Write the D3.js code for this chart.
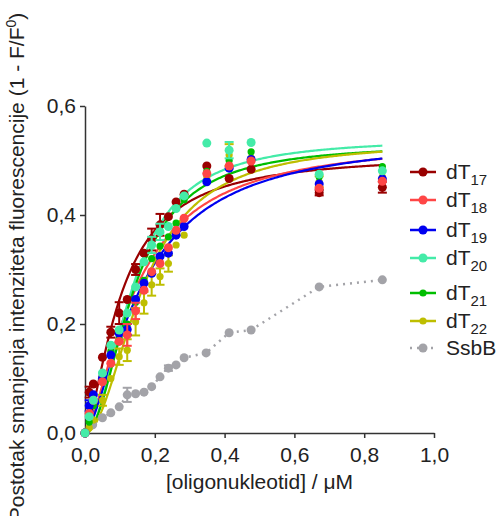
<!DOCTYPE html>
<html><head><meta charset="utf-8">
<script src="https://cdn.jsdelivr.net/npm/d3@7"></script>
<style>
html,body{margin:0;padding:0;background:#fff;}
svg text{font-family:Arial,"Liberation Sans",Helvetica,sans-serif;fill:#222;}
</style></head>
<body>
<svg id="chart" width="499" height="516"></svg>
<script>
// ---------------- data ----------------
const seriesNames = ["dT17","dT18","dT19","dT20","dT21","dT22","SsbB"];
const conc = [0,0.012,0.024,0.05,0.074,0.098,0.121,0.145,0.169,0.191,0.215,0.239,0.261,0.284,0.349,0.413,0.476,0.671,0.852];
const dT17 = [0,0.075,0.09,0.139,0.185,0.22,0.245,0.30,0.33,0.355,0.382,0.397,0.424,0.438,0.490,0.467,0.484,0.441,0.451];
const dT18 = [0,0.036,0.06,0.094,0.128,0.168,0.18,0.224,0.262,0.296,0.311,0.34,0.372,0.394,0.476,0.490,0.499,0.449,0.462];
const dT19 = [0,0.05,0.07,0.10,0.143,0.183,0.19,0.245,0.275,0.293,0.324,0.33,0.363,0.379,0.461,0.486,0.502,0.457,0.466];
const dT20 = [0,0.03,0.06,0.11,0.161,0.189,0.22,0.268,0.314,0.345,0.369,0.379,0.412,0.435,0.532,0.519,0.533,0.475,0.481];
const dT21 = [0,0.02,0.05,0.10,0.15,0.175,0.20,0.24,0.28,0.32,0.343,0.36,0.385,0.428,0.48,0.50,0.516,0.47,0.489];
const dT22 = [0,0.01,0.024,0.06,0.10,0.14,0.152,0.204,0.239,0.272,0.287,0.311,0.345,0.363,0.47,0.51,0.505,0.461,0.47];
const err17 = [0,0.01,0,0,0.01,0.02,0,0.01,0,0.02,0.02,0,0,0,0,0,0,0.005,0.01];
const err18 = [0,0,0,0,0,0,0.02,0.015,0,0,0,0,0,0,0,0,0,0,0];
const err19 = [0,0.01,0,0,0,0,0.01,0,0,0,0,0,0,0,0,0,0,0,0];
const err20 = [0,0,0,0,0,0,0,0,0,0.015,0.015,0,0,0,0,0.015,0,0,0];
const err21 = [0,0,0,0,0,0,0,0,0,0,0,0,0,0,0,0,0,0,0];
const err22 = [0,0,0,0.01,0,0.015,0.02,0.025,0.02,0.02,0.015,0.015,0,0,0,0.02,0,0.01,0];
const ssbX = [0,0.022,0.05,0.074,0.098,0.121,0.145,0.169,0.191,0.215,0.239,0.261,0.284,0.347,0.413,0.476,0.671,0.852];
const ssbB = [0,0.015,0.028,0.037,0.048,0.070,0.072,0.075,0.085,0.103,0.119,0.125,0.138,0.147,0.184,0.189,0.268,0.281];
const ssbErr = [0,0,0,0,0,0.013,0,0,0,0,0.005,0,0,0,0,0,0,0];
// Hill fit parameters (Bmax, K, h) for dT17..dT22
const fitBmax = [0.513,0.540,0.547,0.541,0.531,0.536];
const fitK    = [0.105,0.149,0.166,0.138,0.1415,0.167];
const fitHill = [1.5,1.5,1.5,2.0,2.0,2.0];
const fitEnd = 0.852;
const xTicks = [0,0.2,0.4,0.6,0.8,1.0];
const yTicks = [0,0.2,0.4,0.6];

// ---------------- styles ----------------
const colors = ["#990000","#FF4646","#0000F0","#44EBA8","#00BE00","#BEBE00","#A3A3A8"];
const radii = [4.5,4.5,4.5,4.5,3.6,3.6,4.5];

const svg = d3.select("#chart");
const x = d3.scaleLinear().domain([0,1]).range([85,434]);
const y = d3.scaleLinear().domain([0,0.6]).range([433,106]);
const fmt = d => d.toFixed(1).replace(".", ",");

// axes
const gx = svg.append("g").attr("transform","translate(0,433)")
  .call(d3.axisBottom(x).tickValues(xTicks).tickFormat(fmt).tickSize(5).tickSizeOuter(0).tickPadding(9));
const gy = svg.append("g").attr("transform","translate(85,0)")
  .call(d3.axisLeft(y).tickValues(yTicks).tickFormat(fmt).tickSize(5).tickSizeOuter(0).tickPadding(4));
[gx,gy].forEach(g=>{
  g.selectAll("path,line").attr("stroke","#333").attr("stroke-width",1.5);
  g.selectAll("text").attr("font-size",21).attr("fill","#222").attr("font-family","Arial, 'Liberation Sans', sans-serif");
});

// titles
svg.append("text").attr("x",259.5).attr("y",489).attr("text-anchor","middle")
  .attr("font-size",21).text("[oligonukleotid] / μM");
const yt = svg.append("text").attr("transform","translate(24,267) rotate(-90)")
  .attr("text-anchor","middle").attr("font-size",21);
yt.append("tspan").text("Postotak smanjenja intenziteta fluorescencije (1 - F/F");
yt.append("tspan").attr("font-size",14).attr("dy",-8).text("0");
yt.append("tspan").attr("dy",8).text(")");

// fit curves
const samples = d3.range(0,201).map(i => fitEnd*i/200);
const line = d3.line().x(d=>x(d[0])).y(d=>y(d[1]));
fitBmax.forEach((B,i)=>{
  const h = fitHill[i], K = fitK[i];
  const pts = samples.map(c => [c, B*Math.pow(c,h)/(Math.pow(K,h)+Math.pow(c,h))]);
  svg.append("path").attr("d",line(pts)).attr("fill","none")
    .attr("stroke",colors[i]).attr("stroke-width",2.2);
});

// SsbB dotted line
const ssbPts = ssbX.map((c,i)=>[c,ssbB[i]]);
svg.append("path").attr("d",line(ssbPts)).attr("fill","none")
  .attr("stroke",colors[6]).attr("stroke-width",2.5).attr("stroke-dasharray","2,5").attr("stroke-linecap","butt");

function drawPoints(xs, ys, es, color, r){
  const g = svg.append("g");
  xs.forEach((c,i)=>{
    const e = es[i];
    if(e>0){
      g.append("line").attr("x1",x(c)).attr("x2",x(c)).attr("y1",y(ys[i]-e)).attr("y2",y(ys[i]+e))
        .attr("stroke",color).attr("stroke-width",2);
      [ys[i]-e, ys[i]+e].forEach(v=>g.append("line").attr("x1",x(c)-4.5).attr("x2",x(c)+4.5)
        .attr("y1",y(v)).attr("y2",y(v)).attr("stroke",color).attr("stroke-width",2));
    }
  });
  g.selectAll("circle").data(xs).join("circle")
    .attr("cx",c=>x(c)).attr("cy",(c,i)=>y(ys[i])).attr("r",r).attr("fill",color);
}
drawPoints(ssbX, ssbB, ssbErr, colors[6], radii[6]);
const allSeries = [dT17,dT18,dT19,dT20,dT21,dT22];
const allErr = [err17,err18,err19,err20,err21,err22];
[0,5,4,2,1,3].forEach(i => drawPoints(conc, allSeries[i], allErr[i], colors[i], radii[i]));

// legend
const legY = [172,200,230,258,293,321,348];
seriesNames.forEach((name,i)=>{
  const ly = legY[i];
  const g = svg.append("g");
  g.append("line").attr("x1",410).attr("x2",436).attr("y1",ly).attr("y2",ly)
    .attr("stroke",colors[i]).attr("stroke-width",2.5)
    .attr("stroke-dasharray", i===6 ? "2,5" : null);
  g.append("circle").attr("cx",423).attr("cy",ly).attr("r",radii[i]).attr("fill",colors[i]);
  const t = g.append("text").attr("x",446).attr("y",ly+7).attr("font-size",21);
  if(name.startsWith("dT")){
    t.append("tspan").text("dT");
    t.append("tspan").attr("font-size",15).attr("dy",6).text(name.slice(2));
  } else {
    t.text(name);
  }
});
</script>
</body></html>
